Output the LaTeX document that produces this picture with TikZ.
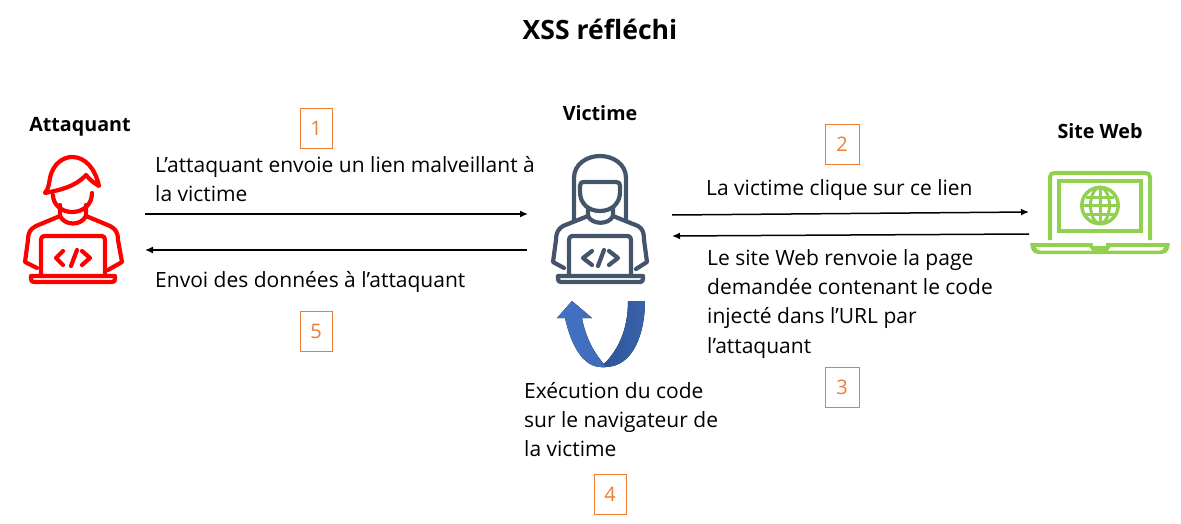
\documentclass[tikz,border=0pt]{standalone}
\usepackage{fontspec}
\setmainfont{Open Sans}
\usetikzlibrary{arrows.meta}
\definecolor{atk}{HTML}{FF0000}
\definecolor{vic}{HTML}{44546A}
\definecolor{web}{HTML}{92D050}
\definecolor{org}{HTML}{ED7D31}
\definecolor{ulight}{HTML}{4472C4}
\definecolor{umid}{HTML}{3F6BB8}
\definecolor{udark}{HTML}{2F5597}
\definecolor{udarkb}{HTML}{3862AB}
\tikzset{
 body/.style={font=\fontsize{21}{29.3}\selectfont,align=left,inner sep=0pt,anchor=north west,text=black},
 head/.style={font=\fontsize{19.7}{24}\selectfont\bfseries,inner sep=0pt,text=black,anchor=base},
 numbox/.style={draw=org,line width=0.8pt,text=org,font=\fontsize{20}{24}\selectfont,inner sep=0pt,minimum width=32pt,minimum height=40pt},
 link/.style={draw=black,line width=1.5pt,-{Latex[length=8pt,width=7pt]}},
 ico/.style={line width=4.2pt,line join=round,line cap=round}
}
\begin{document}
\begin{tikzpicture}[x=1pt,y=-1pt]
\useasboundingbox (0,0) rectangle (1181,524);
\node[font=\fontsize{26.6}{32}\selectfont\bfseries,inner sep=0pt] (title) at (600,29) {XSS réfléchi};
\node[head] (hatk) at (80,132) {Attaquant};
\node[head] (hvic) at (600,121) {Victime};
\node[head] (hweb) at (1100,139) {Site Web};
\node[numbox] (n1) at (316,128) {1};
\node[numbox,minimum width=34pt] (n2) at (842,144) {2};
\node[numbox,minimum width=34pt] (n3) at (842,387) {3};
\node[numbox] (n4) at (610,494) {4};
\node[numbox] (n5) at (316,331) {5};
\node[body] (t1) at (155,156) {L’attaquant envoie un lien malveillant à\\la victime};
\node[body] (t5) at (155,271) {Envoi des données à l’attaquant};
\node[body] (t2) at (706,179) {La victime clique sur ce lien};
\node[body] (t3) at (707,249) {Le site Web renvoie la page\\demandée contenant le code\\injecté dans l’URL par\\l’attaquant};
\node[body] (t4) at (524,382) {Exécution du code\\sur le navigateur de\\la victime};
\coordinate (a1s) at (145,214); \coordinate (a1e) at (528,214);
\coordinate (a5s) at (527,250); \coordinate (a5e) at (145,250);
\coordinate (a2s) at (672,215); \coordinate (a2e) at (1029,212);
\coordinate (a3s) at (1029,234); \coordinate (a3e) at (672,236);
\draw[link] (a1s) -- (a1e);
\draw[link] (a5s) -- (a5e);
\draw[link] (a2s) -- (a2e);
\draw[link] (a3s) -- (a3e);
% attacker
\begin{scope}[ico,draw=atk]
\draw (45,193) .. controls (49,188) and (49,183) .. (50,178) .. controls (53,163) and (64,157) .. (72,157) .. controls (85,157) and (95,168) .. (99,186) .. controls (94,183) and (90,180) .. (86,175) .. controls (75,187) and (60,190) .. (45,193) -- cycle;
\draw (53,195) .. controls (53,205) and (62,212) .. (72,212) .. controls (83,212) and (92,205) .. (92,193);
\draw (60,205) -- (60,216) -- (36,226) .. controls (30,229) and (28,233) .. (28,240) -- (25,262) -- (37,268);
\draw (86,205) -- (86,216) -- (110,226) .. controls (116,229) and (118,233) .. (118,240) -- (122,262) -- (108,270);
\draw (60,216) .. controls (65,226) and (81,226) .. (86,216);
\draw (41,275) -- (41,240) .. controls (41,238) and (42,236) .. (44,236) -- (102,236) .. controls (104,236) and (105,238) .. (105,240) -- (105,275);
\draw (31,276) -- (115,276) -- (115,279) .. controls (115,281) and (114,282) .. (112,282) -- (34,282) .. controls (32,282) and (31,281) .. (31,279) -- cycle;
\draw (63,251) -- (56,258) -- (63,265);
\draw (77,250) -- (71,266);
\draw (82,251) -- (90,258) -- (82,265);
\end{scope}
% victim
\begin{scope}[ico,draw=vic]
\draw (574,220) -- (574,178) .. controls (574,164) and (587,156) .. (600,156) .. controls (613,156) and (626,164) .. (626,178) -- (626,220);
\draw (585,182) -- (616,182) .. controls (619,182) and (620,183) .. (620,186) -- (620,192) .. controls (620,204) and (611,211) .. (600,211) .. controls (589,211) and (580,204) .. (580,192) -- (580,186) .. controls (580,183) and (581,182) .. (585,182) -- cycle;
\draw (588,208) -- (588,216) -- (563,226) .. controls (558,229) and (556,233) .. (556,240) -- (553,262) -- (564,268);
\draw (613,208) -- (613,216) -- (638,226) .. controls (643,229) and (644,233) .. (644,240) -- (647,262) -- (636,269);
\draw (588,216) .. controls (592,225) and (609,225) .. (613,216);
\draw (569,275) -- (569,240) .. controls (569,238) and (570,236) .. (572,236) -- (628,236) .. controls (630,236) and (631,238) .. (631,240) -- (631,275);
\draw (558,276) -- (643,276) -- (643,279) .. controls (643,281) and (642,282) .. (640,282) -- (561,282) .. controls (559,282) and (558,281) .. (558,279) -- cycle;
\draw (592,251) -- (583,258) -- (592,265);
\draw (604,250) -- (598,266);
\draw (609,251) -- (618,258) -- (609,265);
\end{scope}
% U arrow
\fill[left color=udark,right color=udarkb] (628,301) -- (645,301) .. controls (645,330) and (635,367) .. (605,367) -- (601,367) -- (604,364) .. controls (618,350) and (628,330) .. (628,301) -- cycle;
\fill[left color=ulight,right color=umid] (572,301) -- (592,318) -- (582,318) .. controls (585,335) and (593,352) .. (604,364) -- (606,367) -- (601,367) .. controls (583,367) and (571,345) .. (565,318) -- (557,318) -- cycle;
% site web laptop
\begin{scope}[line width=4pt,draw=web]
\draw (1050,240) -- (1050,177) .. controls (1050,174) and (1052,173) .. (1055,173) -- (1145,173) .. controls (1148,173) and (1150,174) .. (1150,177) -- (1150,240);
\draw (1059,181) rectangle (1141,231);
\draw[line width=3.5pt] (1100,205.5) circle (18.2);
\draw[line width=3pt] (1100,205.5) ellipse (9.5 and 18);
\draw[line width=3pt] (1100,188) -- (1100,223);
\draw[line width=3pt] (1083,205.5) -- (1117,205.5) (1086,197) -- (1114,197) (1086,214) -- (1114,214);
\end{scope}
\fill[web] (1030,243) -- (1170,243) -- (1169,248) .. controls (1168,252) and (1165,254) .. (1161,254) -- (1039,254) .. controls (1035,254) and (1032,252) .. (1031,248) -- cycle;
\fill[white] (1036,247) -- (1089,247) -- (1092,250.5) -- (1040,250.5) .. controls (1038,250.5) and (1037,249) .. (1036,247) -- cycle;
\fill[white] (1164,247) -- (1111,247) -- (1108,250.5) -- (1160,250.5) .. controls (1162,250.5) and (1163,249) .. (1164,247) -- cycle;
\fill[white] (1093,243) rectangle (1106,246);
\end{tikzpicture}
\end{document}
